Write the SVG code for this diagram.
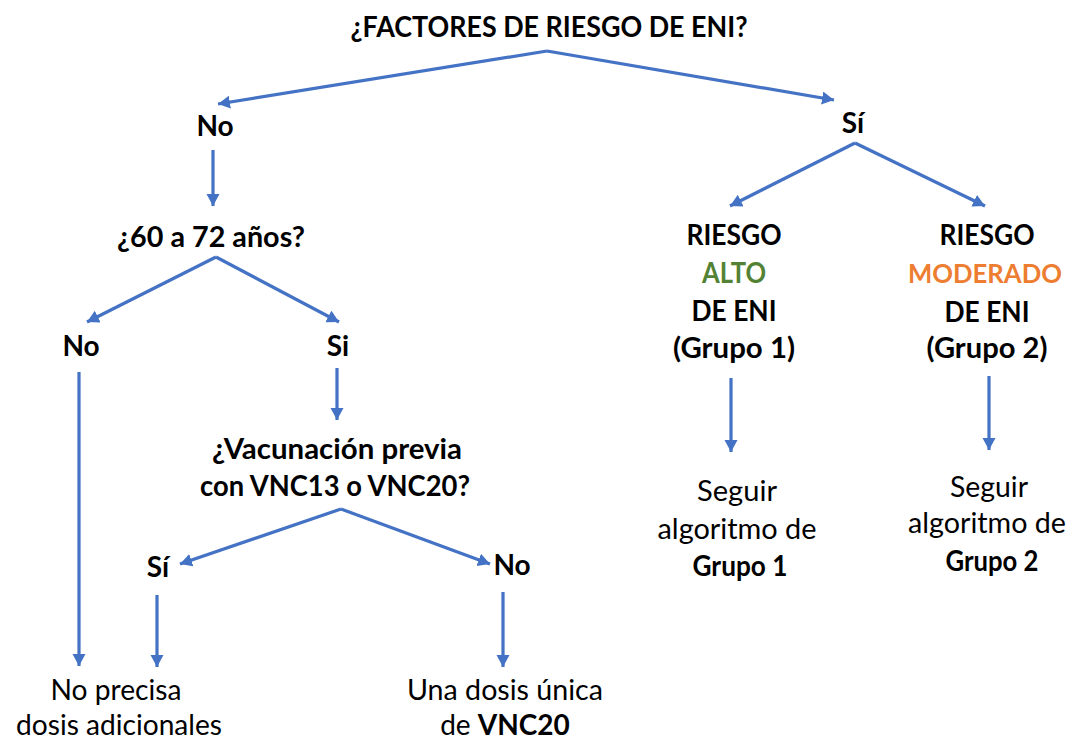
<svg xmlns="http://www.w3.org/2000/svg" width="1073" height="740" viewBox="0 0 1073 740">
<style>
text{font-family:Lato,"Open Sans","Liberation Sans",sans-serif;font-size:28px;fill:#000;text-anchor:middle}
.b{font-weight:bold}
.alto{fill:#548235}
.mod{fill:#ED7D31;font-size:27px}
.c line{stroke:#4472C4;stroke-width:3.2;marker-end:url(#ah)}
</style>
<defs>
<marker id="ah" markerUnits="userSpaceOnUse" markerWidth="14" markerHeight="14" refX="12" refY="6.5" orient="auto">
<path d="M0,0 L12,6.5 L0,13 Z" fill="#4472C4"/>
</marker>
</defs>
<rect width="1073" height="740" fill="#fff"/>
<g class="c" id="connectors">
<line x1="547" y1="51" x2="218" y2="104"/>
<line x1="547" y1="51" x2="834" y2="100"/>
<line x1="213" y1="150" x2="213" y2="206"/>
<line x1="216" y1="257" x2="87" y2="322"/>
<line x1="216" y1="257" x2="339" y2="322"/>
<line x1="79" y1="372" x2="79" y2="666"/>
<line x1="337" y1="368" x2="337" y2="420"/>
<line x1="341" y1="509" x2="180" y2="564"/>
<line x1="341" y1="509" x2="490" y2="564"/>
<line x1="157" y1="595" x2="157" y2="667"/>
<line x1="503" y1="592" x2="503" y2="667"/>
<line x1="855" y1="143" x2="730" y2="206"/>
<line x1="855" y1="143" x2="985" y2="206"/>
<line x1="731" y1="378" x2="731" y2="452"/>
<line x1="989" y1="376" x2="989" y2="450"/>
</g>
<g id="n-title"><text class="b" x="549" y="37" textLength="397" lengthAdjust="spacingAndGlyphs">¿FACTORES DE RIESGO DE ENI?</text></g>
<g id="n-no1"><text class="b" x="215" y="136">No</text></g>
<g id="n-si1"><text class="b" x="853" y="133">Sí</text></g>
<g id="n-edad"><text class="b" x="211" y="247" textLength="188" lengthAdjust="spacingAndGlyphs">¿60 a 72 años?</text></g>
<g id="n-no2"><text class="b" x="81" y="356">No</text></g>
<g id="n-si2"><text class="b" x="338" y="356">Si</text></g>
<g id="n-vac"><text class="b" x="337" y="459" textLength="250" lengthAdjust="spacingAndGlyphs">¿Vacunación previa</text><text class="b" x="335" y="496" textLength="270" lengthAdjust="spacingAndGlyphs">con VNC13 o VNC20?</text></g>
<g id="n-si3"><text class="b" x="158" y="577">Sí</text></g>
<g id="n-no3"><text class="b" x="512" y="575">No</text></g>
<g id="n-noprecisa"><text x="116" y="700" textLength="131" lengthAdjust="spacingAndGlyphs">No precisa</text><text x="119" y="735" textLength="206" lengthAdjust="spacingAndGlyphs">dosis adicionales</text></g>
<g id="n-unadosis"><text x="505" y="700" textLength="196" lengthAdjust="spacingAndGlyphs">Una dosis única</text><text x="505" y="735">de <tspan class="b">VNC20</tspan></text></g>
<g id="n-alto"><text class="b" x="734" y="245" textLength="95" lengthAdjust="spacingAndGlyphs">RIESGO</text><text class="b alto" x="734" y="283" textLength="64" lengthAdjust="spacingAndGlyphs">ALTO</text><text class="b" x="734" y="321" textLength="85" lengthAdjust="spacingAndGlyphs">DE ENI</text><text class="b" x="734" y="358" textLength="122" lengthAdjust="spacingAndGlyphs">(Grupo 1)</text></g>
<g id="n-mod"><text class="b" x="987" y="245" textLength="95" lengthAdjust="spacingAndGlyphs">RIESGO</text><text class="b mod" x="985" y="283" textLength="154" lengthAdjust="spacingAndGlyphs">MODERADO</text><text class="b" x="987" y="322" textLength="85" lengthAdjust="spacingAndGlyphs">DE ENI</text><text class="b" x="987" y="358" textLength="121" lengthAdjust="spacingAndGlyphs">(Grupo 2)</text></g>
<g id="n-g1"><text x="737" y="501" textLength="80" lengthAdjust="spacingAndGlyphs">Seguir</text><text x="737" y="539" textLength="159" lengthAdjust="spacingAndGlyphs">algoritmo de</text><text class="b" x="740" y="576" textLength="95" lengthAdjust="spacingAndGlyphs">Grupo 1</text></g>
<g id="n-g2"><text x="989" y="497" textLength="78" lengthAdjust="spacingAndGlyphs">Seguir</text><text x="987" y="533" textLength="158" lengthAdjust="spacingAndGlyphs">algoritmo de</text><text class="b" x="992" y="571" textLength="93" lengthAdjust="spacingAndGlyphs">Grupo 2</text></g>
</svg>
